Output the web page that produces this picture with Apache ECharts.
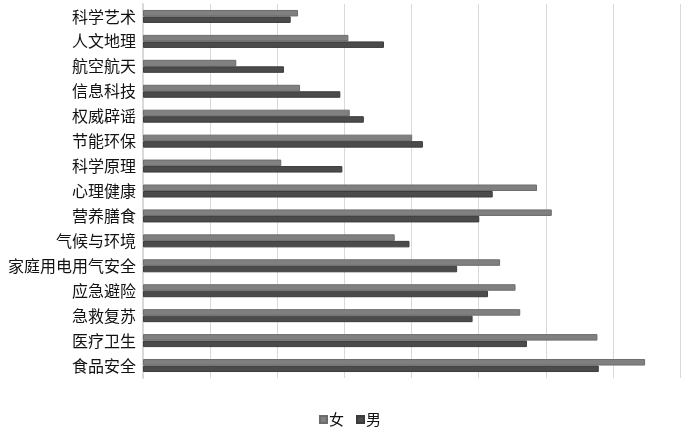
<!DOCTYPE html>
<html>
<head>
<meta charset="utf-8">
<script src="https://cdn.jsdelivr.net/npm/echarts@6/dist/echarts.min.js"></script>
<style>html,body{margin:0;padding:0;background:#fff;}#c{width:700px;height:434px;}</style>
</head>
<body>
<div id="c"></div>
<script>
const categories = ['科学艺术','人文地理','航空航天','信息科技','权威辟谣','节能环保','科学原理','心理健康','营养膳食','气候与环境','家庭用电用气安全','应急避险','急救复苏','医疗卫生','食品安全'];
const female = [23.1, 30.6, 13.9, 23.4, 30.8, 40.1, 20.6, 58.7, 60.9, 37.5, 53.2, 55.5, 56.2, 67.7, 74.8];
const male   = [22.0, 35.9, 21.0, 29.4, 32.9, 41.7, 29.7, 52.1, 50.1, 39.7, 46.8, 51.4, 49.1, 57.2, 67.9];
const seriesNames = ['女','男'];

const chart = echarts.init(document.getElementById('c'), null, {renderer:'canvas'});
const font = '"Noto Sans CJK SC", sans-serif';
chart.setOption({
  animation: false,
  backgroundColor: '#fff',
  textStyle: {fontFamily: font},
  grid: {left: 143, right: 20, top: 4, bottom: 56, containLabel: false},
  legend: {
    data: seriesNames,
    bottom: 2,
    left: 'center',
    itemWidth: 7, itemHeight: 7, itemGap: 12,
    icon: 'rect',
    textStyle: {fontSize: 15, color: '#111', fontFamily: font, padding: [0,0,0,-3]}
  },
  xAxis: {
    type: 'value', min: 0, max: 80, interval: 10,
    axisLabel: {show: false}, axisLine: {show: false}, axisTick: {show: false},
    splitLine: {lineStyle: {color: '#d9d9d9', width: 1}}
  },
  yAxis: {
    type: 'category', data: categories, inverse: true,
    axisLine: {show: true, lineStyle: {color: '#d9d9d9', width: 2}},
    axisTick: {show: false},
    axisLabel: {fontSize: 16, color: '#111', margin: 7, fontFamily: font}
  },
  series: [
    {name: seriesNames[0], type: 'bar', data: female, barWidth: 6.5, barGap: '0%',
     itemStyle: {color: '#808080', borderColor: '#6c6c6c', borderWidth: 1}},
    {name: seriesNames[1], type: 'bar', data: male, barWidth: 6.5, barGap: '0%',
     itemStyle: {color: '#4b4b4b', borderColor: '#3c3c3c', borderWidth: 1}}
  ]
});
</script>
</body>
</html>
